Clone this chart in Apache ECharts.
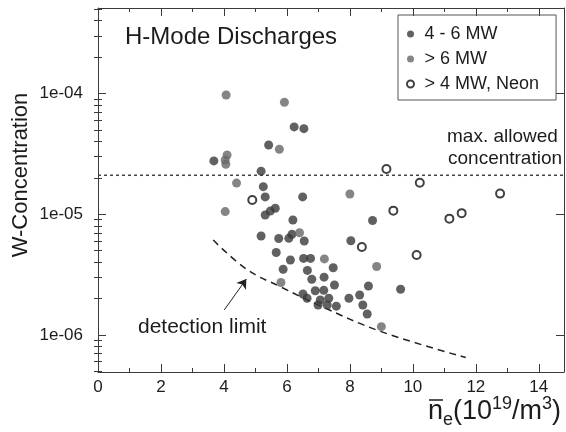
<!DOCTYPE html>
<html><head><meta charset="utf-8">
<script src="https://cdn.jsdelivr.net/npm/echarts@6/dist/echarts.min.js"></script>
<style>html,body{margin:0;padding:0;background:#fff}#c{width:566px;height:432px}</style>
</head><body><div id="c"></div>
<script>
// ---- data ----
const seriesNames = ['4 - 6 MW', '> 6 MW', '> 4 MW, Neon'];

const lowPowerX = [6.23, 6.54, 5.42, 3.68, 5.18, 5.25, 5.31, 6.50, 5.31, 5.47, 5.63, 6.19, 5.18, 5.74, 6.06, 6.16, 6.55, 5.66, 6.11, 6.53, 6.75, 5.88, 6.65, 6.79, 7.18, 6.51, 6.64, 6.90, 7.17, 7.06, 7.33, 6.99, 7.28, 7.57, 7.47, 7.51, 8.72, 8.03, 8.59, 7.97, 8.31, 8.41, 8.55, 9.61];
const lowPowerY = [5.28e-5, 5.11e-5, 3.74e-5, 2.76e-5, 2.27e-5, 1.69e-5, 1.39e-5, 1.39e-5, 9.85e-6, 1.06e-5, 1.12e-5, 8.95e-6, 6.6e-6, 6.29e-6, 6.31e-6, 6.81e-6, 6.0e-6, 4.81e-6, 4.17e-6, 4.30e-6, 4.30e-6, 3.50e-6, 3.42e-6, 2.89e-6, 3.01e-6, 2.18e-6, 2.01e-6, 2.32e-6, 2.34e-6, 1.95e-6, 2.01e-6, 1.77e-6, 1.77e-6, 1.73e-6, 3.60e-6, 2.59e-6, 8.87e-6, 6.03e-6, 2.54e-6, 2.01e-6, 2.14e-6, 1.77e-6, 1.49e-6, 2.39e-6];

const highPowerX = [4.07, 5.92, 5.76, 4.10, 4.04, 4.06, 4.40, 4.04, 6.40, 7.19, 5.81, 8.00, 8.85, 9.00];
const highPowerY = [9.7e-5, 8.45e-5, 3.45e-5, 3.09e-5, 2.81e-5, 2.59e-5, 1.81e-5, 1.05e-5, 7.01e-6, 4.26e-6, 2.72e-6, 1.47e-5, 3.69e-6, 1.17e-6];

const neonX = [4.90, 9.16, 10.22, 9.38, 8.38, 10.12, 11.16, 11.55, 12.77];
const neonY = [1.31e-5, 2.37e-5, 1.82e-5, 1.07e-5, 5.35e-6, 4.59e-6, 9.18e-6, 1.02e-5, 1.48e-5];

const detectionX = [3.66, 4.74, 5.79, 7.06, 8.97, 11.68];
const detectionY = [6.1e-6, 3.47e-6, 2.51e-6, 1.74e-6, 1.07e-6, 6.5e-7];

const maxAllowed = 2.1e-5;
const arrowFrom = [4.01, 1.61e-6];
const arrowTo = [4.71, 2.9e-6];

const xTicks = [0, 2, 4, 6, 8, 10, 12, 14];
const xMinorTicks = [1, 3, 5, 7, 9, 11, 13];
const yMinorMantissas = [2, 3, 4, 5, 6, 7, 8, 9];
const yMinorDecades = [-7, -6, -5, -4];

const X_MIN = 0, X_MAX = 14.8;
const Y_MIN = 4.93e-7, Y_MAX = 5.1e-4;

// ---- build ----
const zip = (xs, ys) => xs.map((x, i) => [x, ys[i]]);
const LMIN = Math.log10(Y_MIN), LMAX = Math.log10(Y_MAX);
const yMinorLog = [];
yMinorDecades.forEach(d => yMinorMantissas.forEach(m => {
  const v = Math.log10(m) + d;
  if (v > LMIN && v < LMAX) yMinorLog.push(v);
}));

const FONT = '"Liberation Sans", Arial, Helvetica, sans-serif';
const TXT = '#1c1c1c';
const FRAME = '#3a3a3a';

function xAx(pos, major) {
  return {
    type: 'value', position: pos, min: X_MIN, max: X_MAX,
    axisLine: { show: major, onZero: false, lineStyle: { color: FRAME, width: 1 } },
    axisTick: { show: true, inside: true, length: major ? 8 : 4, customValues: major ? xTicks : xMinorTicks, lineStyle: { color: FRAME, width: 1 } },
    axisLabel: (major && pos === 'bottom') ? { show: true, customValues: xTicks, margin: 7, fontSize: 17, color: TXT, fontFamily: FONT } : { show: false },
    splitLine: { show: false }
  };
}
const fmtY = v => { const e = Math.round(Math.log10(v)); return '1e-' + String(-e).padStart(2, '0'); };
function yLog(pos) {
  return {
    type: 'log', logBase: 10, position: pos, min: Y_MIN, max: Y_MAX,
    axisLine: { show: true, onZero: false, lineStyle: { color: FRAME, width: 1 } },
    axisTick: { show: true, inside: true, length: 8, lineStyle: { color: FRAME, width: 1 } },
    axisLabel: pos === 'left' ? { show: true, formatter: fmtY, showMinLabel: false, showMaxLabel: false, margin: 15, fontSize: 17, color: TXT, fontFamily: FONT } : { show: false },
    splitLine: { show: false }, minorTick: { show: false }
  };
}
function yMinor(pos) {
  return {
    type: 'value', position: pos, min: LMIN, max: LMAX,
    axisLine: { show: false },
    axisTick: { show: true, inside: true, length: 4, customValues: yMinorLog, lineStyle: { color: FRAME, width: 1 } },
    axisLabel: { show: false }, splitLine: { show: false }
  };
}

const option = {
  animation: false,
  backgroundColor: '#fff',
  grid: { left: 98, top: 8, right: 2, bottom: 60 },
  xAxis: [xAx('bottom', true), xAx('bottom', false), xAx('top', true), xAx('top', false)],
  yAxis: [yLog('left'), yMinor('left'), yLog('right'), yMinor('right')],
  legend: {
    orient: 'vertical', left: 398, top: 15,
    data: seriesNames,
    itemWidth: 18, itemHeight: 7, itemGap: 7,
    padding: [10, 17, 7, 8],
    borderColor: '#555', borderWidth: 1,
    selectedMode: false,
    textStyle: { fontSize: 18, color: TXT, fontFamily: FONT }
  },
  series: [
    { name: 'max. allowed concentration', type: 'line', xAxisIndex: 0, yAxisIndex: 0,
      data: [[X_MIN, maxAllowed], [X_MAX, maxAllowed]],
      showSymbol: false, symbol: 'none', silent: true,
      lineStyle: { type: [3, 3], color: '#444', width: 1.5 }, z: 2 },
    { name: seriesNames[0], type: 'scatter', xAxisIndex: 0, yAxisIndex: 0, data: zip(lowPowerX, lowPowerY),
      symbol: 'circle', symbolSize: 9, itemStyle: { color: '#3a3a3a' }, z: 4 },
    { name: seriesNames[1], type: 'scatter', xAxisIndex: 0, yAxisIndex: 0, data: zip(highPowerX, highPowerY),
      symbol: 'circle', symbolSize: 9, itemStyle: { color: '#666' }, z: 4 },
    { name: seriesNames[2], type: 'scatter', xAxisIndex: 0, yAxisIndex: 0, data: zip(neonX, neonY),
      symbol: 'circle', symbolSize: 8, itemStyle: { color: '#fff', borderColor: '#111', borderWidth: 2 }, z: 5 },
    { name: 'detection limit', type: 'line', xAxisIndex: 0, yAxisIndex: 0, data: zip(detectionX, detectionY),
      smooth: 0.4, showSymbol: false, symbol: 'none', silent: true,
      lineStyle: { type: [7, 5], color: '#222', width: 1.5 }, z: 3,
      markLine: {
        silent: true, symbol: ['none', 'arrow'], symbolSize: 9, label: { show: false },
        lineStyle: { type: 'solid', color: '#222', width: 1 },
        data: [ [ { coord: arrowFrom }, { coord: arrowTo } ] ]
      } }
  ],
  graphic: [
    { type: 'text', x: 125, y: 37, style: { text: 'H-Mode Discharges', fontSize: 24, fontFamily: FONT, fill: TXT, align: 'left', verticalAlign: 'middle' } },
    { type: 'text', x: 21, y: 175, rotation: Math.PI / 2, style: { text: 'W-Concentration', fontSize: 22, fontFamily: FONT, fill: TXT, align: 'center', verticalAlign: 'middle' } },
    { type: 'text', x: 447, y: 137, style: { text: 'max. allowed', fontSize: 19, fontFamily: FONT, fill: TXT, align: 'left', verticalAlign: 'middle' } },
    { type: 'text', x: 448, y: 158.5, style: { text: 'concentration', fontSize: 19, fontFamily: FONT, fill: TXT, align: 'left', verticalAlign: 'middle' } },
    { type: 'text', x: 138, y: 327, style: { text: 'detection limit', fontSize: 21, fontFamily: FONT, fill: TXT, align: 'left', verticalAlign: 'middle' } },
    { type: 'text', x: 428, y: 395, style: {
        text: '{a|n}{s|e}{a|(10}{p|19}{a|/m}{p|3}{a|)}', align: 'left', verticalAlign: 'top', fill: TXT,
        rich: {
          a: { fontSize: 27, fontFamily: FONT, fill: TXT, lineHeight: 34, verticalAlign: 'middle' },
          s: { fontSize: 18, fontFamily: FONT, fill: TXT, lineHeight: 23, verticalAlign: 'bottom' },
          p: { fontSize: 18, fontFamily: FONT, fill: TXT, lineHeight: 10, verticalAlign: 'top' }
        } } },
    { type: 'line', shape: { x1: 429, y1: 400, x2: 443, y2: 400 }, style: { stroke: TXT, lineWidth: 1.5 } }
  ]
};

const chart = echarts.init(document.getElementById('c'), null, { renderer: 'canvas' });
chart.setOption(option);
</script>
</body></html>
